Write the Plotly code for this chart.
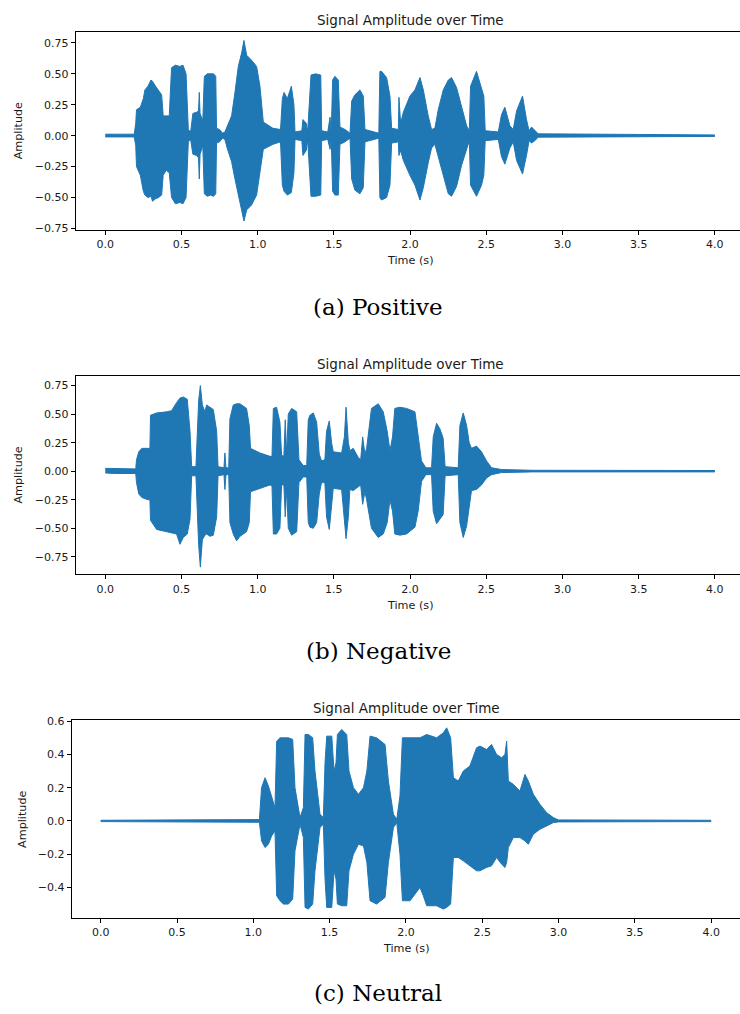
import plotly.graph_objects as go

W, H = 740, 1014
BLUE = "#1f77b4"

TITLE = "Signal Amplitude over Time"
XLABEL = "Time (s)"
YLABEL = "Amplitude"
CAPTIONS = ["(a) Positive", "(b) Negative", "(c) Neutral"]

# ---------- (a) Positive: envelope ----------
t_pos = [0.00, 0.19, 0.20, 0.205, 0.23, 0.25, 0.26, 0.28, 0.30, 0.31, 0.33, 0.35, 0.37, 0.38, 0.40, 0.42,
         0.435, 0.46, 0.49, 0.51, 0.53, 0.545, 0.56, 0.575, 0.60, 0.612, 0.617, 0.622, 0.64,
         0.65, 0.67, 0.69, 0.71, 0.725, 0.73, 0.75, 0.77, 0.785, 0.80, 0.829, 0.851, 0.873, 0.895,
         0.910, 0.928, 0.960, 0.993, 1.015, 1.037, 1.10, 1.15,
         1.162, 1.173, 1.195, 1.221, 1.238, 1.245, 1.29, 1.297, 1.319, 1.328,
         1.35, 1.38, 1.414, 1.42, 1.46, 1.475, 1.483,
         1.492, 1.507, 1.529, 1.540, 1.573, 1.606, 1.617, 1.638, 1.671, 1.693, 1.704, 1.795,
         1.802, 1.813, 1.846, 1.868, 1.879, 1.923, 1.927, 1.938, 1.956, 1.999, 2.032, 2.065,
         2.087, 2.119, 2.141, 2.163, 2.185, 2.218, 2.251, 2.272, 2.305, 2.338, 2.371, 2.389,
         2.397, 2.436, 2.469, 2.484, 2.493, 2.579, 2.600, 2.622, 2.655, 2.677, 2.699, 2.738,
         2.764, 2.781, 2.797, 2.819, 2.841, 3.5, 4.0]
up_pos = [0.012, 0.012, 0.10, 0.21, 0.23, 0.30, 0.37, 0.40, 0.45, 0.44, 0.40, 0.36, 0.33, 0.16, 0.16, 0.16,
          0.55, 0.57, 0.56, 0.57, 0.50, 0.05, 0.03, 0.18, 0.19, 0.20, 0.35, 0.18, 0.12,
          0.48, 0.50, 0.50, 0.50, 0.48, 0.06, 0.05, 0.02, 0.03, 0.08, 0.16, 0.35, 0.56, 0.67,
          0.77, 0.65, 0.61, 0.56, 0.40, 0.11, 0.06, 0.05,
          0.30, 0.35, 0.30, 0.40, 0.25, 0.03, 0.04, 0.13, 0.10, 0.03,
          0.49, 0.50, 0.49, 0.04, 0.03, 0.15, 0.03,
          0.45, 0.48, 0.45, 0.07, 0.05, 0.02, 0.28, 0.33, 0.37, 0.32, 0.05, 0.02,
          0.52, 0.52, 0.47, 0.32, 0.06, 0.05, 0.31, 0.10, 0.19, 0.32, 0.37, 0.47,
          0.37, 0.16, 0.05, 0.06, 0.21, 0.37, 0.45, 0.47, 0.39, 0.24, 0.08, 0.04,
          0.40, 0.52, 0.37, 0.32, 0.04, 0.03, 0.17, 0.23, 0.08, 0.05, 0.20, 0.32,
          0.13, 0.04, 0.07, 0.04, 0.015, 0.010, 0.006]
lo_pos = [-0.010, -0.010, -0.08, -0.25, -0.32, -0.45, -0.48, -0.50, -0.49, -0.53, -0.51, -0.50, -0.48, -0.32, -0.28, -0.30,
          -0.50, -0.55, -0.54, -0.55, -0.50, -0.05, -0.03, -0.15, -0.16, -0.18, -0.35, -0.15, -0.08,
          -0.47, -0.49, -0.48, -0.49, -0.47, -0.06, -0.05, -0.02, -0.03, -0.10, -0.21, -0.35, -0.48, -0.59,
          -0.69, -0.60, -0.56, -0.48, -0.29, -0.11, -0.07, -0.05,
          -0.40, -0.45, -0.48, -0.46, -0.30, -0.03, -0.04, -0.16, -0.12, -0.03,
          -0.49, -0.49, -0.48, -0.04, -0.03, -0.11, -0.03,
          -0.45, -0.48, -0.48, -0.07, -0.05, -0.02, -0.35, -0.44, -0.47, -0.42, -0.05, -0.02,
          -0.50, -0.52, -0.50, -0.40, -0.06, -0.05, -0.16, -0.12, -0.20, -0.32, -0.40, -0.52,
          -0.42, -0.22, -0.10, -0.07, -0.17, -0.33, -0.47, -0.49, -0.41, -0.24, -0.10, -0.04,
          -0.40, -0.49, -0.40, -0.32, -0.04, -0.03, -0.17, -0.23, -0.10, -0.05, -0.20, -0.31,
          -0.16, -0.04, -0.06, -0.04, -0.012, -0.008, -0.006]

# ---------- (b) Negative ----------
t_neg = [0.00, 0.06, 0.20, 0.205, 0.22, 0.24, 0.28, 0.293,
         0.297, 0.337, 0.403, 0.435, 0.468, 0.490, 0.512, 0.538, 0.556, 0.567, 0.595,
         0.604, 0.613, 0.624, 0.637, 0.654, 0.665, 0.687, 0.709, 0.731, 0.740, 0.779, 0.785, 0.792, 0.810,
         0.818, 0.840, 0.862, 0.884, 0.927, 0.945, 0.953, 1.015, 1.081, 1.094,
         1.103, 1.124, 1.146, 1.157, 1.172, 1.181, 1.190, 1.201, 1.223, 1.256, 1.271, 1.299,
         1.322, 1.332, 1.343, 1.365, 1.387, 1.404, 1.419, 1.441, 1.452, 1.470, 1.485, 1.496, 1.551,
         1.569, 1.580, 1.595, 1.605, 1.627, 1.660, 1.676, 1.689, 1.704, 1.715, 1.747, 1.791, 1.824,
         1.850, 1.868, 1.885, 1.900, 1.933, 1.977, 2.032, 2.053, 2.075, 2.104, 2.141, 2.152, 2.174,
         2.196, 2.217, 2.230, 2.316, 2.327, 2.349, 2.371, 2.388, 2.403, 2.436, 2.469, 2.502, 2.535,
         2.60, 2.80, 4.0]
up_neg = [0.025, 0.022, 0.02, 0.10, 0.17, 0.20, 0.20, 0.20,
          0.49, 0.51, 0.52, 0.53, 0.60, 0.64, 0.65, 0.63, 0.35, 0.04, 0.04,
          0.30, 0.62, 0.75, 0.58, 0.52, 0.58, 0.56, 0.54, 0.35, 0.04, 0.03, 0.16, 0.03, 0.03,
          0.46, 0.58, 0.59, 0.59, 0.55, 0.40, 0.20, 0.16, 0.13, 0.13,
          0.55, 0.56, 0.43, 0.14, 0.13, 0.45, 0.15, 0.50, 0.55, 0.52, 0.10, 0.05,
          0.05, 0.45, 0.49, 0.51, 0.43, 0.15, 0.09, 0.10, 0.35, 0.44, 0.25, 0.17, 0.16,
          0.30, 0.56, 0.25, 0.18, 0.20, 0.12, 0.10, 0.30, 0.15, 0.20, 0.55, 0.59, 0.52,
          0.35, 0.18, 0.30, 0.55, 0.56, 0.55, 0.52, 0.29, 0.09, 0.03, 0.03, 0.30, 0.42,
          0.37, 0.29, 0.04, 0.03, 0.40, 0.51, 0.40, 0.25, 0.20, 0.22, 0.17, 0.09, 0.03,
          0.015, 0.008, 0.006]
lo_neg = [-0.015, -0.02, -0.02, -0.10, -0.20, -0.23, -0.25, -0.25,
          -0.43, -0.51, -0.53, -0.54, -0.55, -0.64, -0.58, -0.55, -0.42, -0.04, -0.04,
          -0.35, -0.65, -0.84, -0.60, -0.56, -0.55, -0.57, -0.56, -0.40, -0.04, -0.03, -0.16, -0.03, -0.03,
          -0.45, -0.55, -0.61, -0.57, -0.53, -0.45, -0.18, -0.15, -0.12, -0.13,
          -0.55, -0.55, -0.50, -0.12, -0.12, -0.40, -0.15, -0.50, -0.56, -0.53, -0.10, -0.05,
          -0.05, -0.45, -0.49, -0.50, -0.45, -0.20, -0.10, -0.10, -0.40, -0.51, -0.30, -0.15, -0.16,
          -0.40, -0.59, -0.40, -0.16, -0.17, -0.14, -0.12, -0.29, -0.18, -0.25, -0.50, -0.58, -0.55,
          -0.45, -0.25, -0.35, -0.55, -0.56, -0.55, -0.49, -0.35, -0.09, -0.03, -0.03, -0.35, -0.46,
          -0.42, -0.38, -0.04, -0.03, -0.45, -0.58, -0.48, -0.30, -0.17, -0.16, -0.12, -0.06, -0.03,
          -0.012, -0.006, -0.006]

# ---------- (c) Neutral ----------
t_neu = [0.00, 0.87, 0.88, 1.04, 1.054, 1.077, 1.099, 1.120, 1.142,
         1.153, 1.175, 1.197, 1.230, 1.258, 1.273, 1.306, 1.328,
         1.339, 1.361, 1.389, 1.404, 1.437, 1.459, 1.470, 1.481, 1.514, 1.529, 1.542,
         1.551, 1.579, 1.612, 1.627, 1.656, 1.689, 1.722, 1.744,
         1.765, 1.808, 1.863, 1.885, 1.918, 1.940, 1.961, 1.977, 2.027, 2.092, 2.114, 2.136,
         2.201, 2.245, 2.267, 2.293, 2.311, 2.343, 2.376, 2.419, 2.463, 2.485, 2.528, 2.561,
         2.594, 2.627, 2.649, 2.660, 2.671, 2.704, 2.747, 2.780, 2.802, 2.835, 2.878, 2.922,
         2.966, 2.999, 4.0]
up_neu = [0.004, 0.004, 0.008, 0.008, 0.20, 0.26, 0.21, 0.14, 0.08,
          0.48, 0.50, 0.50, 0.50, 0.49, 0.20, 0.02, 0.08,
          0.52, 0.52, 0.50, 0.30, 0.04, 0.02, 0.35, 0.51, 0.51, 0.30, 0.35,
          0.52, 0.55, 0.52, 0.30, 0.20, 0.16, 0.20, 0.30,
          0.51, 0.50, 0.46, 0.24, 0.04, 0.01, 0.15, 0.50, 0.50, 0.50, 0.51, 0.52,
          0.50, 0.53, 0.56, 0.50, 0.26, 0.24, 0.30, 0.33, 0.44, 0.45, 0.43, 0.46,
          0.40, 0.38, 0.40, 0.48, 0.24, 0.22, 0.18, 0.28, 0.24, 0.16, 0.10, 0.05,
          0.02, 0.006, 0.004]
lo_neu = [-0.004, -0.004, -0.008, -0.008, -0.12, -0.16, -0.14, -0.09, -0.06,
          -0.45, -0.48, -0.50, -0.50, -0.47, -0.18, -0.02, -0.10,
          -0.52, -0.53, -0.50, -0.30, -0.04, -0.02, -0.35, -0.52, -0.52, -0.30, -0.35,
          -0.50, -0.51, -0.51, -0.30, -0.20, -0.14, -0.15, -0.25,
          -0.48, -0.50, -0.46, -0.25, -0.04, -0.01, -0.20, -0.48, -0.48, -0.40, -0.45, -0.51,
          -0.51, -0.53, -0.52, -0.50, -0.22, -0.22, -0.24, -0.27, -0.30, -0.30, -0.28, -0.27,
          -0.22, -0.26, -0.28, -0.25, -0.16, -0.10, -0.10, -0.12, -0.14, -0.08, -0.05, -0.03,
          -0.01, -0.006, -0.004]

# ---------- ticks ----------
x_tickvals = [0.0, 0.5, 1.0, 1.5, 2.0, 2.5, 3.0, 3.5, 4.0]
x_ticktext = ["0.0", "0.5", "1.0", "1.5", "2.0", "2.5", "3.0", "3.5", "4.0"]
y_tickvals_ab = [-0.75, -0.50, -0.25, 0.00, 0.25, 0.50, 0.75]
y_ticktext_ab = ["\u22120.75", "\u22120.50", "\u22120.25", "0.00", "0.25", "0.50", "0.75"]
y_tickvals_c = [-0.4, -0.2, 0.0, 0.2, 0.4, 0.6]
y_ticktext_c = ["\u22120.4", "\u22120.2", "0.0", "0.2", "0.4", "0.6"]

# ---------- layout geometry (pixels) ----------
panels = [
    dict(t=t_pos, up=up_pos, lo=lo_pos, left=75.7, top=27.3, bottom=227.3,
         xr=[-0.194, 4.165], yr=[-0.763, 0.838], yt=(y_tickvals_ab, y_ticktext_ab),
         title_y=15, xlab_y=258.5, ylab_x=18.3, cx=410, cap_y=305),
    dict(t=t_neg, up=up_neg, lo=lo_neg, left=75.7, top=375.0, bottom=575.0,
         xr=[-0.194, 4.165], yr=[-0.903, 0.831], yt=(y_tickvals_ab, y_ticktext_ab),
         title_y=362.7, xlab_y=606, ylab_x=18.3, cx=410, cap_y=652.7),
    dict(t=t_neu, up=up_neu, lo=lo_neu, left=71.7, top=722.3, bottom=922.3,
         xr=[-0.19, 4.189], yr=[-0.585, 0.606], yt=(y_tickvals_c, y_ticktext_c),
         title_y=710, xlab_y=953.3, ylab_x=21.7, cx=406.5, cap_y=998),
]

TXT = "#1a1a1a"
FONT = "DejaVu Sans"

fig = go.Figure()
annotations = []
layout_axes = {}

for i, p in enumerate(panels, start=1):
    xa = "x" if i == 1 else f"x{i}"
    ya = "y" if i == 1 else f"y{i}"
    fig.add_trace(go.Scatter(x=p["t"], y=p["up"], mode="lines", xaxis=xa, yaxis=ya,
                             line=dict(color=BLUE, width=1), hoverinfo="skip", showlegend=False))
    fig.add_trace(go.Scatter(x=p["t"], y=p["lo"], mode="lines", xaxis=xa, yaxis=ya,
                             line=dict(color=BLUE, width=1), fill="tonexty", fillcolor=BLUE,
                             hoverinfo="skip", showlegend=False))
    xkey = "xaxis" if i == 1 else f"xaxis{i}"
    ykey = "yaxis" if i == 1 else f"yaxis{i}"
    ydom = [1 - p["bottom"] / H, 1 - p["top"] / H]
    layout_axes[xkey] = dict(
        domain=[p["left"] / W, 1.0], range=p["xr"], anchor=ya,
        tickvals=x_tickvals, ticktext=x_ticktext,
        showline=True, linecolor="#000000", linewidth=1, mirror=True,
        ticks="outside", ticklen=4, tickwidth=1, tickcolor="#000000",
        showgrid=False, zeroline=False,
        tickfont=dict(family=FONT, size=11, color=TXT),
    )
    layout_axes[ykey] = dict(
        domain=ydom, range=p["yr"], anchor=xa,
        tickvals=p["yt"][0], ticktext=p["yt"][1],
        showline=True, linecolor="#000000", linewidth=1,
        ticks="outside", ticklen=4, tickwidth=1, tickcolor="#000000",
        showgrid=False, zeroline=False,
        tickfont=dict(family=FONT, size=11, color=TXT),
    )
    annotations.append(dict(text=TITLE, x=p["cx"] / W, y=1 - p["title_y"] / H, xref="paper", yref="paper",
                            xanchor="center", yanchor="middle", showarrow=False,
                            font=dict(family=FONT, size=13.5, color=TXT)))
    annotations.append(dict(text=XLABEL, x=p["cx"] / W, y=1 - p["xlab_y"] / H, xref="paper", yref="paper",
                            xanchor="center", yanchor="middle", showarrow=False,
                            font=dict(family=FONT, size=11.2, color=TXT)))
    annotations.append(dict(text=YLABEL, x=p["ylab_x"] / W, y=1 - (p["top"] + p["bottom"]) / 2 / H,
                            xref="paper", yref="paper", textangle=-90,
                            xanchor="center", yanchor="middle", showarrow=False,
                            font=dict(family=FONT, size=11.2, color=TXT)))
    annotations.append(dict(text=CAPTIONS[i - 1], x=378 / W, y=1 - p["cap_y"] / H, xref="paper", yref="paper",
                            xanchor="center", yanchor="middle", showarrow=False,
                            font=dict(family="DejaVu Serif", size=23, color="#000000")))

fig.update_layout(
    width=W, height=H,
    margin=dict(l=0, r=0, t=0, b=0),
    paper_bgcolor="#ffffff", plot_bgcolor="#ffffff",
    showlegend=False, hovermode=False,
    annotations=annotations,
    **layout_axes,
)

fig.write_html("out.html", config={"displayModeBar": False},
               post_script="document.body.style.margin='0';document.body.style.overflow='hidden';")
